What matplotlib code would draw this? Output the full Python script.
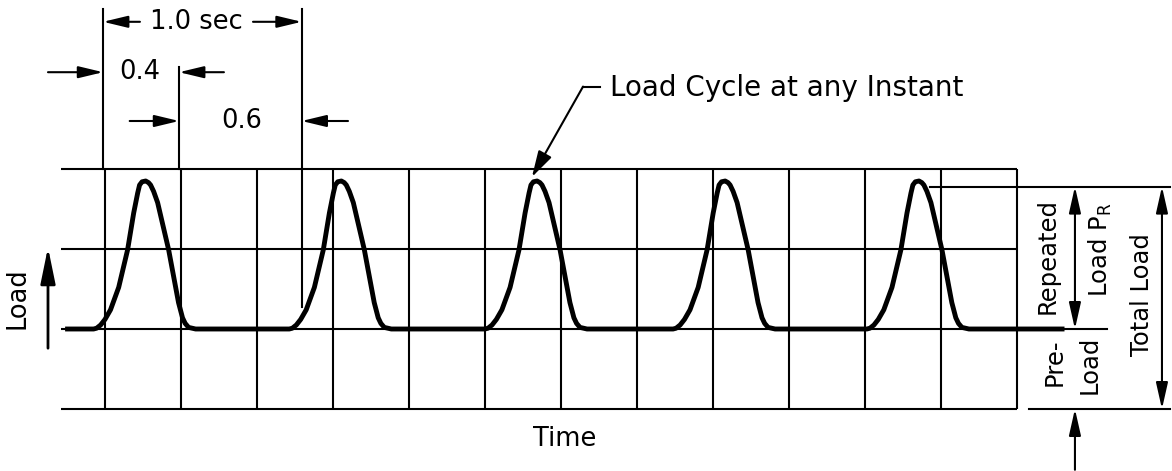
import matplotlib
matplotlib.use("Agg")
import matplotlib.pyplot as plt

# ---- data (time in seconds, load in grid units: 0 = bottom line, 1 = pre-load) ----
grid_times = [0.0, 0.4, 0.8, 1.2, 1.6, 2.0, 2.4, 2.8, 3.2, 3.6, 4.0, 4.4, 4.8]
grid_loads = [0, 1, 2, 3]
grid_left = -0.23

pre_load = 1.0
peak_line = 2.78

# one load pulse: time offset from its start, load value
pulse_dt = [0.0, 0.016, 0.037, 0.060, 0.089, 0.132, 0.179, 0.211, 0.232,
            0.242, 0.255, 0.274, 0.289, 0.300, 0.316, 0.337, 0.395, 0.447,
            0.468, 0.482, 0.500, 0.537]
pulse_load = [1.0, 1.01, 1.05, 1.12, 1.24, 1.52, 1.99, 2.45, 2.70,
              2.80, 2.84, 2.85, 2.83, 2.80, 2.72, 2.58, 1.99, 1.33,
              1.14, 1.07, 1.02, 1.0]
pulse_starts = [-0.06, 0.97, 2.0, 2.99, 4.01]
trace_start, trace_end = -0.21, 5.05

# dimension marks above grid
dim_t = [-0.01, 0.39, 1.035]
dim_top = [5.0, 4.27, 5.0]
dim_bottom = [3.0, 3.0, 1.27]

fig = plt.figure(figsize=(11.72, 4.71), dpi=100)
ax = fig.add_axes([0, 0, 1, 1])
ax.set_xlim(-0.5526, 5.6158)
ax.set_ylim(-0.775, 5.1125)
ax.axis("off")

K = "black"
FS = 18.5
FAM = "DejaVu Sans"
LW = 1.5

# grid
for y in grid_loads:
    ax.plot([grid_left, grid_times[-1]], [y, y], color=K, lw=LW, solid_capstyle="butt")
for t in grid_times:
    ax.plot([t, t], [grid_loads[0], grid_loads[-1]], color=K, lw=LW, solid_capstyle="butt")

# dimension lines
for t, top, bot in zip(dim_t, dim_top, dim_bottom):
    ax.plot([t, t], [bot, top], color=K, lw=LW)

# load trace
xs = [trace_start]
ys = [pre_load]
for s in pulse_starts:
    xs += [s + d for d in pulse_dt]
    ys += pulse_load
xs.append(trace_end)
ys.append(pre_load)
ax.plot(xs, ys, color=K, lw=3.5, solid_joinstyle="round", solid_capstyle="butt")


def arrow(tail, tip, both=False, hl=1.3, hw=0.36, lw=LW):
    style = "<|-|>" if both else "-|>"
    ax.annotate("", xy=tip, xytext=tail,
                arrowprops=dict(arrowstyle=f"{style},head_length={hl},head_width={hw}",
                                mutation_scale=10, lw=lw, color=K,
                                shrinkA=0, shrinkB=0))


# 1.0 sec
y1 = 4.84
arrow((0.184, y1), (-0.01, y1), hl=1.5)
arrow((0.779, y1), (1.035, y1), hl=1.5)
ax.text(0.48, y1, "1.0 sec", ha="center", va="center", fontsize=FS, family=FAM)
# 0.4
y4 = 4.21
arrow((-0.30, y4), (-0.01, y4), hl=1.5)
arrow((0.626, y4), (0.39, y4), hl=1.5)
ax.text(0.185, y4, "0.4", ha="center", va="center", fontsize=FS, family=FAM)
# 0.6
y6 = 3.60
arrow((0.13, y6), (0.39, y6), hl=1.5)
arrow((1.279, y6), (1.035, y6), hl=1.5)
ax.text(0.72, y6, "0.6", ha="center", va="center", fontsize=FS, family=FAM)

# Load cycle annotation
ax.plot([2.516, 2.605], [4.03, 4.03], color=K, lw=LW)
arrow((2.516, 4.03), (2.247, 2.9), hl=1.6, hw=0.45)
ax.text(2.66, 4.01, "Load Cycle at any Instant", ha="left", va="center",
        fontsize=20, family=FAM)

# axis labels
ax.text(-0.458, 1.39, "Load", rotation=90, ha="center", va="center", fontsize=FS, family=FAM)
arrow((-0.30, 0.76), (-0.30, 2.02), hl=2.2, hw=0.45, lw=2.0)
ax.text(2.42, -0.375, "Time", ha="center", va="center", fontsize=FS, family=FAM)

# right-side dimensions
ax.plot([4.342, 5.605], [peak_line, peak_line], color=K, lw=LW)
ax.plot([4.80, 5.274], [pre_load, pre_load], color=K, lw=LW)
ax.plot([4.863, 5.605], [0, 0], color=K, lw=LW)
arrow((5.105, pre_load), (5.105, peak_line), both=True, hl=1.6, hw=0.36)
arrow((5.105, -0.76), (5.105, 0.0), hl=1.6, hw=0.36)
arrow((5.563, 0.0), (5.563, peak_line), both=True, hl=1.6, hw=0.36)

ax.text(4.963, 1.91, "Repeated", rotation=90, ha="center", va="center", fontsize=FS - 1, family=FAM)
ax.text(5.237, 1.99, "Load P$_\\mathregular{R}$", rotation=90, ha="center", va="center",
        fontsize=FS - 1, family=FAM)
ax.text(5.0, 0.59, "Pre-", rotation=90, ha="center", va="center", fontsize=FS - 1, family=FAM)
ax.text(5.184, 0.55, "Load", rotation=90, ha="center", va="center", fontsize=FS - 1, family=FAM)
ax.text(5.458, 1.425, "Total Load", rotation=90, ha="center", va="center", fontsize=FS - 1, family=FAM)

fig.savefig("out.png", dpi=100)
